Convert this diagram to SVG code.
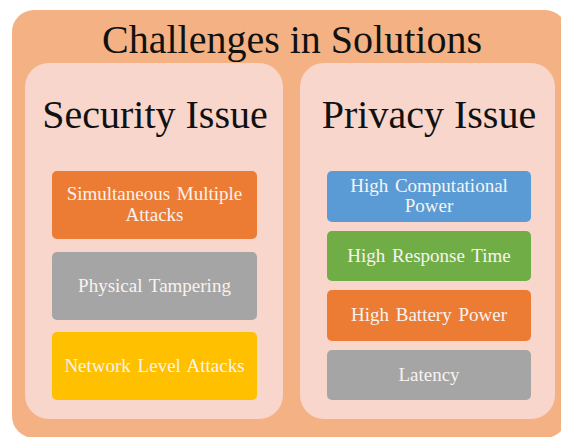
<svg xmlns="http://www.w3.org/2000/svg" width="561" height="437" viewBox="0 0 561 437">
<style>
.title{font-family:"Liberation Serif","Times New Roman",serif;fill:#111;text-anchor:middle}
.big{font-size:40px}
.lbl{font-family:"Liberation Serif","Times New Roman",serif;font-size:19px;word-spacing:2px;fill:#F7F3F0;text-anchor:middle}
.panel{fill:#F8D6CB}
.orange{fill:#EC7C33}
.gray{fill:#A5A5A5}
.yellow{fill:#FFC000}
.blue{fill:#5B9BD5}
.green{fill:#70AD47}
</style>
<rect width="561" height="437" fill="#ffffff"/>
<g id="outer">
<rect x="12" y="10" width="555" height="428" rx="22" fill="#F4B183"/>
<text class="title big" x="292" y="53">Challenges in Solutions</text>
</g>
<g id="security">
<rect class="panel" x="25" y="63" width="258" height="356" rx="24"/>
<text class="title big" x="155" y="128">Security Issue</text>
</g>
<g id="privacy">
<rect class="panel" x="300" y="63" width="255" height="356" rx="24"/>
<text class="title big" x="429" y="128">Privacy Issue</text>
</g>
<g id="sec1">
<rect class="orange" x="52" y="171" width="205" height="68" rx="5"/>
<text class="lbl" x="154.5" y="200">Simultaneous Multiple</text>
<text class="lbl" x="154.5" y="221">Attacks</text>
</g>
<g id="sec2">
<rect class="gray" x="52" y="252" width="205" height="68" rx="5"/>
<text class="lbl" x="154.5" y="292">Physical Tampering</text>
</g>
<g id="sec3">
<rect class="yellow" x="52" y="332" width="205" height="68" rx="5"/>
<text class="lbl" x="154.5" y="372">Network Level Attacks</text>
</g>
<g id="priv1">
<rect class="blue" x="327" y="171" width="204" height="51" rx="5"/>
<text class="lbl" x="429" y="192">High Computational</text>
<text class="lbl" x="429" y="212">Power</text>
</g>
<g id="priv2">
<rect class="green" x="327" y="231" width="204" height="50" rx="5"/>
<text class="lbl" x="429" y="262">High Response Time</text>
</g>
<g id="priv3">
<rect class="orange" x="327" y="290" width="204" height="51" rx="5"/>
<text class="lbl" x="429" y="321">High Battery Power</text>
</g>
<g id="priv4">
<rect class="gray" x="327" y="350" width="204" height="50" rx="5"/>
<text class="lbl" x="429" y="381">Latency</text>
</g>
<g id="connectors"/>
</svg>
